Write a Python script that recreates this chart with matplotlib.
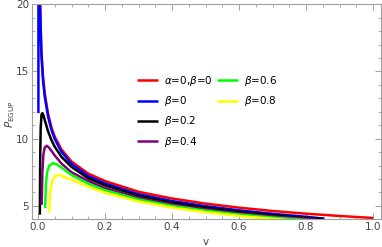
import matplotlib.pyplot as plt
from matplotlib.lines import Line2D
from matplotlib.ticker import MultipleLocator

# curves (v, P_EGUP)
v_red = [0.005, 0.01, 0.015, 0.02, 0.03, 0.04, 0.05, 0.07, 0.1, 0.15, 0.2, 0.3, 0.4, 0.5, 0.6, 0.7, 0.8, 0.9, 1.0]
p_red = [21.0, 16.6, 14.6, 13.4, 11.85, 10.85, 10.15, 9.2, 8.3, 7.4, 6.85, 6.05, 5.55, 5.17, 4.87, 4.62, 4.42, 4.25, 4.1]

v_blue = [0.0012, 0.0015, 0.0055, 0.01, 0.015, 0.02, 0.03, 0.04, 0.05, 0.07, 0.1, 0.15, 0.2, 0.3, 0.4, 0.5, 0.6, 0.7, 0.8, 0.855]
p_blue = [11.9, 30.0, 20.5, 16.3, 14.35, 13.15, 11.65, 10.66, 9.97, 9.02, 8.13, 7.22, 6.67, 5.87, 5.36, 4.98, 4.67, 4.41, 4.19, 4.05]

v_b02 = [0.0055, 0.0065, 0.008, 0.0105, 0.013, 0.016, 0.02, 0.03, 0.04, 0.05, 0.07, 0.1, 0.15, 0.2, 0.3, 0.4, 0.5, 0.6, 0.7, 0.8, 0.848]
p_b02 = [4.35, 8.5, 10.8, 11.8, 11.9, 11.75, 11.4, 10.55, 9.9, 9.4, 8.65, 7.9, 7.05, 6.53, 5.75, 5.24, 4.87, 4.57, 4.32, 4.12, 4.03]

v_b04 = [0.011, 0.013, 0.016, 0.02, 0.026, 0.032, 0.04, 0.05, 0.07, 0.1, 0.15, 0.2, 0.3, 0.4, 0.5, 0.6, 0.7, 0.8, 0.83]
p_b04 = [5.08, 7.5, 8.8, 9.35, 9.47, 9.35, 9.1, 8.75, 8.15, 7.5, 6.85, 6.33, 5.6, 5.1, 4.74, 4.45, 4.21, 4.03, 3.98]

v_b06 = [0.021, 0.024, 0.028, 0.034, 0.045, 0.055, 0.07, 0.1, 0.15, 0.2, 0.3, 0.4, 0.5, 0.6, 0.7, 0.8]
p_b06 = [4.83, 6.8, 7.6, 8.0, 8.18, 8.1, 7.85, 7.3, 6.65, 6.17, 5.48, 5.0, 4.65, 4.36, 4.13, 3.95]

v_b08 = [0.033, 0.036, 0.042, 0.05, 0.058, 0.07, 0.1, 0.15, 0.2, 0.3, 0.4, 0.5, 0.6, 0.7, 0.78]
p_b08 = [4.5, 6.0, 6.85, 7.2, 7.3, 7.25, 6.95, 6.42, 5.98, 5.33, 4.88, 4.53, 4.25, 4.03, 3.88]

series = [
    (v_red, p_red, "red", r"$\alpha$=0,$\beta$=0"),
    (v_blue, p_blue, "blue", r"$\beta$=0"),
    (v_b02, p_b02, "black", r"$\beta$=0.2"),
    (v_b04, p_b04, "purple", r"$\beta$=0.4"),
    (v_b06, p_b06, "#00ff00", r"$\beta$=0.6"),
    (v_b08, p_b08, "#ffff00", r"$\beta$=0.8"),
]

fig = plt.figure(figsize=(3.82, 2.47), dpi=100)
ax = fig.add_axes([0.083, 0.112, 0.914, 0.8706])

handles = []
for v, p, c, lab in series:
    ln, = ax.plot(v, p, color=c, lw=1.8, label=lab, solid_capstyle="butt")
    handles.append(ln)

ax.set_xlim(-0.0188, 1.023)
ax.set_ylim(4.0, 20.0)

ax.xaxis.set_major_locator(MultipleLocator(0.2))
ax.xaxis.set_minor_locator(MultipleLocator(0.05))
ax.yaxis.set_major_locator(MultipleLocator(5))
ax.yaxis.set_minor_locator(MultipleLocator(1))
ax.xaxis.set_major_formatter(plt.FuncFormatter(lambda x, _: f"{x:.1f}"))

frame_col = "#a0a0a0"
for s in ax.spines.values():
    s.set_color(frame_col)
    s.set_linewidth(0.8)
ax.tick_params(which="both", direction="in", top=True, right=True,
               color=frame_col, labelcolor="#444444", labelsize=7.5, pad=2)
ax.tick_params(which="major", length=4, width=0.7)
ax.tick_params(which="minor", length=2, width=0.6)

ax.set_xlabel("v", fontsize=7.5, color="#444444")
ax.set_ylabel(r"$P_{\mathrm{EGUP}}$", fontsize=7.5, color="#444444")
ax.xaxis.set_label_coords(0.499, -0.083)
ax.yaxis.set_label_coords(-0.042, 0.49)

# blank entries so the first column holds four rows, like the reference
blank = Line2D([], [], color="none")
labels = [s[3] for s in series] + ["", ""]
ax.legend(handles + [blank, blank], labels, ncol=2, frameon=False, fontsize=7.5,
          handlelength=2.0, handletextpad=0.6, columnspacing=0.45, labelspacing=0.6,
          loc="upper left", bbox_to_anchor=(137 / 382, 1 - 74 / 247),
          bbox_transform=fig.transFigure, borderpad=0, borderaxespad=0)

fig.savefig("out.png", dpi=100)
